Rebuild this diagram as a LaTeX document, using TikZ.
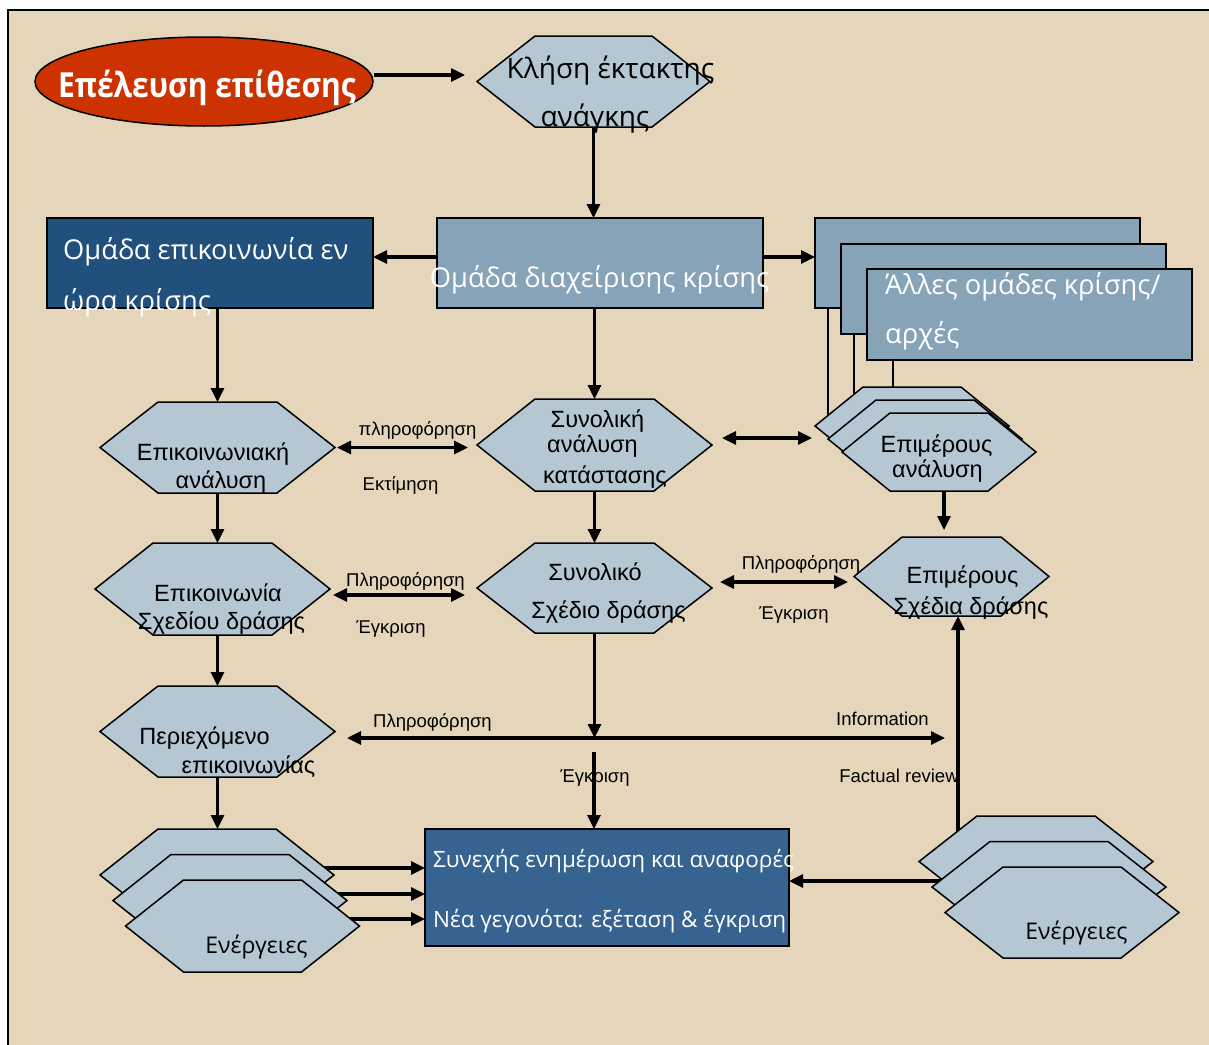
\documentclass[tikz,border=0pt]{standalone}
\usepackage{fontspec}
\setmainfont{Liberation Sans}
\newfontfamily\hum{Open Sans}
\newfontfamily\humb[FakeStretch=0.87]{Open Sans Bold}
\usetikzlibrary{arrows.meta,shapes.geometric,calc}
\definecolor{bg}{RGB}{228,213,187}
\definecolor{hexfill}{RGB}{180,199,211}
\definecolor{midblue}{RGB}{135,163,184}
\definecolor{darkblue}{RGB}{33,80,124}
\definecolor{boxblue}{RGB}{54,99,143}
\definecolor{attack}{RGB}{204,51,0}
\pgfdeclarelayer{back}
\pgfdeclarelayer{under}
\pgfsetlayers{back,under,main}
\tikzset{
 hexbox/.style={inner sep=0pt,outer sep=0pt},
 hexline/.style={fill=hexfill,draw=black,line width=1.5pt},
 rbox/.style={draw=black,line width=2pt,inner sep=0pt,outer sep=0pt},
 arr/.style={line width=3.1pt,-{Triangle[length=14pt,width=13pt]}},
 dbl/.style={line width=3.1pt,{Triangle[length=14pt,width=13pt]}-{Triangle[length=14pt,width=13pt]}},
 thinln/.style={line width=1.6pt},
 ar/.style={font=\fontsize{23.5}{23.5}\selectfont,inner sep=0pt,anchor=base},
 lbl/.style={font=\fontsize{18.5}{18.5}\selectfont,inner sep=0pt,anchor=base},
 hm/.style={font=\hum\fontsize{27.3}{27.3}\selectfont,inner sep=0pt,anchor=base},
 hms/.style={font=\hum\fontsize{22.5}{22.5}\selectfont,inner sep=0pt,anchor=base},
}
\newcommand\hexa[7][]{%
 \node[hexbox,minimum width=#5pt,minimum height=#6pt] (#2) at (#3,#4) {};
 \draw[hexline,#1] (#2.west) -- ([xshift=#7pt]#2.north west) -- ([xshift=-#7pt]#2.north east) -- (#2.east) -- ([xshift=-#7pt]#2.south east) -- ([xshift=#7pt]#2.south west) -- cycle;
}
\begin{document}
\begin{tikzpicture}[x=1pt,y=-1pt]
\useasboundingbox (0,0) rectangle (1209,1044);
\begin{pgfonlayer}{back}
\clip (0,0) rectangle (1209,1044);
\fill[white] (0,0) rectangle (1209,1044);
\draw[fill=bg,line width=1.5pt] (8,10) rectangle (1230,1070);
\end{pgfonlayer}

% start ellipse
\node[ellipse,draw=black,line width=1.5pt,fill=attack,minimum width=338pt,minimum height=89pt,inner sep=0pt] (att) at (204,81.5) {};

% rectangles
\node[rbox,fill=darkblue,minimum width=326pt,minimum height=90pt] (comm) at (210,263) {};
\node[rbox,fill=midblue,minimum width=326pt,minimum height=90pt] (mgmt) at (600,263) {};
\node[rbox,fill=midblue,minimum width=325pt,minimum height=90pt] (oth1) at (977.5,263) {};
\node[rbox,fill=midblue,minimum width=325pt,minimum height=90pt] (oth2) at (1003.5,289) {};
\node[rbox,fill=midblue,minimum width=325pt,minimum height=91pt] (oth3) at (1029.5,314.5) {};
\node[rbox,fill=boxblue,minimum width=364pt,minimum height=117pt] (upd) at (607,887.5) {};

% hexagons
\hexa{call}{593.5}{81.5}{233}{91}{58}
\hexa{epan}{217.5}{447.5}{235}{91}{58}
\hexa{synan}{594.5}{445}{235}{92}{58}
\hexa{synsx}{594.5}{588}{235}{90}{58}
\hexa{epsx}{212.5}{589}{235}{92}{58}
\hexa{per}{217.5}{731.5}{235}{91}{58}
\hexa{ea1}{912}{426}{194}{78}{48}
\hexa{ea2}{925}{439}{194}{78}{48}
\hexa{ea3}{939}{452}{194}{78}{48}
\hexa{esx}{951.5}{576.5}{195}{79}{48}
\hexa{la1}{217}{875}{234}{92}{58}
\hexa{la2}{230}{900.5}{234}{92}{58}
\hexa{la3}{242.5}{926}{234}{92}{58}
\hexa{ra1}{1036}{861.5}{234}{91}{58}
\hexa{ra2}{1049}{887}{234}{91}{58}
\hexa{ra3}{1062}{912.5}{234}{91}{58}

% connectors lying under shapes
\begin{pgfonlayer}{under}
\draw[thinln] ([xshift=13pt]oth1.south west) -- ([xshift=13pt]oth1.south west |- ea1.center);
\draw[thinln] ([xshift=13pt]oth2.south west) -- ([xshift=13pt]oth2.south west |- ea2.center);
\draw[thinln] ([xshift=26pt]oth3.south west) -- ([xshift=26pt]oth3.south west |- ea3.center);
\draw[arr] ([xshift=6.5pt]esx.south |- ra1.center) -- ([xshift=6.5pt]esx.south);
\draw[arr] ([yshift=7pt]la1.center) -- ([yshift=7pt]la1.center -| upd.west);
\draw[arr] ([yshift=6.5pt]la2.center) -- ([yshift=6.5pt]la2.center -| upd.west);
\draw[arr] ([yshift=7pt]la3.center) -- ([yshift=7pt]la3.center -| upd.west);
\draw[arr] ([yshift=6pt]ra2.center) -- ([yshift=6pt]ra2.center -| upd.east);
\end{pgfonlayer}

% connectors
\draw[arr] ([yshift=6.5pt]att.east) -- ([xshift=-12pt,yshift=6.5pt]call.west);
\draw[arr] (call.south) -- (call.south |- mgmt.north);
\draw[arr] ([yshift=6pt]mgmt.west) -- ([yshift=6pt]mgmt.west -| comm.east);
\draw[arr] ([yshift=6pt]mgmt.east) -- ([yshift=6pt]mgmt.east -| oth1.west);
\draw[arr] (comm.south -| epan.north) -- (epan.north);
\draw[arr] (mgmt.south -| synan.north) -- (synan.north);
\draw[dbl] ([xshift=2pt]epan.east) -- ($(epan.east -| synan.west)+(-9,0)$);
\draw[dbl] ([xshift=10pt,yshift=7pt]synan.east) -- ($(synan.east -| ea1.west)+(-3,-7)$);
\draw[arr] ([xshift=5pt]ea3.south) -- ($(ea3.south |- esx.north)+(5,-7)$);
\draw[arr] (synan.south) -- (synan.south |- synsx.north);
\draw[arr] (epan.south) -- (epan.south |- epsx.north);
\draw[dbl] ([xshift=8pt,yshift=6pt]synsx.east) -- ($(synsx.east -| esx.west)+(-6,-6)$);
\draw[dbl] ([xshift=3pt,yshift=-6pt]epsx.east) -- ($(epsx.east -| synsx.west)+(-12,6)$);
\draw[arr] (epsx.south -| per.north) -- (per.north);
\coordinate (infoL) at (347,738);
\coordinate (infoR) at (945,738);
\draw[dbl] (infoL) -- (infoR);
\draw[arr] (synsx.south) -- (synsx.south |- infoL);
\coordinate (apprtop) at (594,752);
\draw[arr] (apprtop) -- (apprtop |- upd.north);
\draw[arr] (per.south) -- (per.south |- la1.north);

% texts
\node[hm,font=\humb\fontsize{34.5}{34.5}\selectfont,text=white] (attT) at (207,97) {Επέλευση επίθεσης};
\node[hm,font=\hum\fontsize{28}{28}\selectfont] (callT1) at (610.5,78) {Κλήση έκτακτης};
\node[hm,font=\hum\fontsize{28}{28}\selectfont] (callT2) at (595,126) {ανάγκης};
\node[hm,anchor=base west,text=white] (commT1) at (63,259) {Ομάδα επικοινωνία εν};
\node[hm,anchor=base west,text=white] (commT2) at (63,310) {ώρα κρίσης};
\node[hm,text=white] (mgmtT) at (599.5,287) {Ομάδα διαχείρισης κρίσης};
\node[hm,anchor=base west,text=white] (othT1) at (885,294) {Άλλες ομάδες κρίσης/};
\node[hm,anchor=base west,text=white] (othT2) at (885,343) {αρχές};
\node[hms,anchor=base west,text=white] (updT1) at (433,867) {Συνεχής ενημέρωση και αναφορές};
\node[hms,anchor=base west,text=white] (updT2) at (433,927) {Νέα γεγονότα: εξέταση \& έγκριση};
\node[hms,font=\hum\fontsize{23}{23}\selectfont] (laT) at (256.5,953) {Ενέργειες};
\node[hms,font=\hum\fontsize{23}{23}\selectfont] (raT) at (1076.5,939) {Ενέργειες};

\node[ar] (epanT1) at (213,460) {Επικοινωνιακή};
\node[ar] (epanT2) at (221,488) {ανάλυση};
\node[ar] (synanT1) at (597.5,427) {Συνολική};
\node[ar] (synanT2) at (592.5,452) {ανάλυση};
\node[ar] (synanT3) at (605,483) {κατάστασης};
\node[ar] (synsxT1) at (595,580) {Συνολικό};
\node[ar] (synsxT2) at (608.5,618) {Σχέδιο δράσης};
\node[ar] (eaT1) at (936.5,452) {Επιμέρους};
\node[ar] (eaT2) at (937.5,477) {ανάλυση};
\node[ar] (esxT1) at (962.5,583) {Επιμέρους};
\node[ar] (esxT2) at (971,614) {Σχέδια δράσης};
\node[ar] (epsxT1) at (218,601) {Επικοινωνία};
\node[ar] (epsxT2) at (221.5,629) {Σχεδίου δράσης};
\node[ar] (perT1) at (204.5,744) {Περιεχόμενο};
\node[ar] (perT2) at (248.5,773) {επικοινωνίας};

\node[lbl] (l1a) at (417.5,435) {πληροφόρηση};
\node[lbl] (l1b) at (400.5,490) {Εκτίμηση};
\node[lbl] (l2a) at (405.5,586) {Πληροφόρηση};
\node[lbl] (l2b) at (391,633) {Έγκριση};
\node[lbl] (l3a) at (801,569) {Πληροφόρηση};
\node[lbl] (l3b) at (794,619) {Έγκριση};
\node[lbl] (l4a) at (432.5,727) {Πληροφόρηση};
\node[lbl] (l4b) at (882.5,725) {Information};
\node[lbl] (l4c) at (595,782) {Έγκριση};
\node[lbl] (l4d) at (899,782) {Factual review};
\end{tikzpicture}
\end{document}
